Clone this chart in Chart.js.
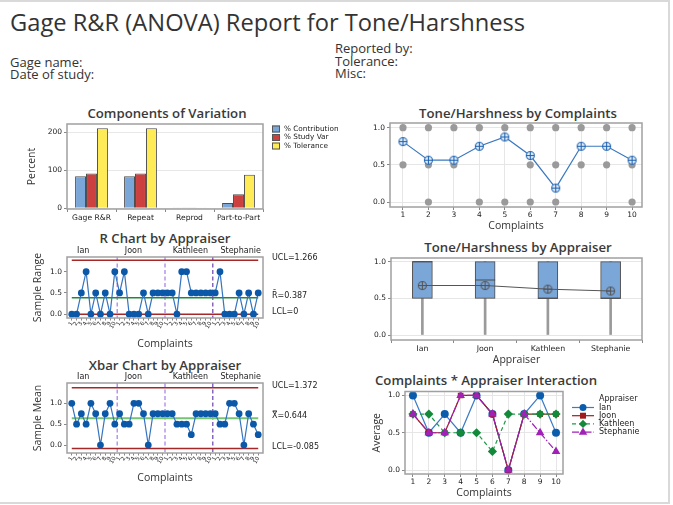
<!DOCTYPE html>
<html><head><meta charset="utf-8">
<script src="https://cdn.jsdelivr.net/npm/chart.js@4.4.1/dist/chart.umd.min.js"></script>
<style>
html,body{margin:0;padding:0;background:#fff;}
body{width:673px;height:505px;position:relative;overflow:hidden;font-family:"Open Sans",sans-serif;color:#333;}
#frame{position:absolute;left:-2px;top:0;width:672px;height:504px;border:2px solid #d9d9d9;box-sizing:border-box;}
.t{position:absolute;white-space:nowrap;}
.hdr{position:absolute;white-space:nowrap;font-size:13px;line-height:13px;color:#333;}
.pt{position:absolute;white-space:nowrap;font-size:13.2px;font-weight:600;line-height:14px;color:#3a3a3a;transform:translate(-50%,-50%);}
canvas{position:absolute;}
</style></head>
<body>
<div id="frame"></div>
<div class="t" style="left:10px;top:6px;font-size:23.7px;line-height:32px;color:#333;">Gage R&amp;R (ANOVA) Report for Tone/Harshness</div>
<div class="hdr" style="left:335px;top:41.5px;">Reported by:</div>
<div class="hdr" style="left:335px;top:54.5px;">Tolerance:</div>
<div class="hdr" style="left:335px;top:66.5px;">Misc:</div>
<div class="hdr" style="left:10px;top:55.5px;">Gage name:</div>
<div class="hdr" style="left:10px;top:67.5px;">Date of study:</div>

<div class="pt" style="left:167px;top:113px;">Components of Variation</div>
<div class="pt" style="left:165px;top:238px;">R Chart by Appraiser</div>
<div class="pt" style="left:165px;top:365px;">Xbar Chart by Appraiser</div>
<div class="pt" style="left:518px;top:113px;">Tone/Harshness by Complaints</div>
<div class="pt" style="left:518px;top:247px;">Tone/Harshness by Appraiser</div>
<div class="pt" style="left:486px;top:380px;">Complaints * Appraiser Interaction</div>

<canvas id="cA"></canvas>
<canvas id="cB"></canvas>
<canvas id="cC"></canvas>
<canvas id="cD"></canvas>
<canvas id="cE"></canvas>
<canvas id="cF"></canvas>

<script>
// ---------------- data ----------------
const complaints = [1, 2, 3, 4, 5, 6, 7, 8, 9, 10];
const appraisers = ['Ian', 'Joon', 'Kathleen', 'Stephanie'];

const components = ['Gage R&R', 'Repeat', 'Reprod', 'Part-to-Part'];
const pctContribution = [84, 84, 0.4, 14];
const pctStudyVar = [91, 91, 0.4, 37];
const pctTolerance = [210, 210, 0.4, 88];
const percentTicks = [0, 100, 200];

const ianRanges = [0, 0, 0.5, 1, 0, 0.5, 0, 0.5, 0, 1];
const joonRanges = [0.5, 1, 0, 0, 0, 0.5, 0, 0.5, 0.5, 0.5];
const kathleenRanges = [0.5, 0.5, 0, 1, 1, 0.5, 0.5, 0.5, 0.5, 0.5];
const stephanieRanges = [0.5, 1, 0, 0, 0, 0.5, 0, 0.5, 0, 0.5];
const rUCL = 1.266, rBar = 0.387, rLCL = 0;

const ianMeans = [1, 0.5, 0.75, 0.5, 1, 0.75, 0, 0.75, 1, 0.5];
const joonMeans = [0.75, 0.5, 0.5, 1, 1, 0.75, 0, 0.75, 0.75, 0.75];
const kathleenMeans = [0.75, 0.75, 0.5, 0.5, 0.5, 0.25, 0.75, 0.75, 0.75, 0.75];
const stephanieMeans = [0.75, 0.5, 0.5, 1, 1, 0.75, 0, 0.75, 0.5, 0.25];
const xUCL = 1.372, xBar = 0.644, xLCL = -0.085;

const complaintMeans = [0.8125, 0.5625, 0.5625, 0.75, 0.875, 0.625, 0.1875, 0.75, 0.75, 0.5625];
const complaintObserved = [[0.5, 1], [0, 0.5, 1], [0.5, 1], [0, 1], [0, 1], [0, 0.5, 1], [0, 0.5, 1], [0.5, 1], [0.5, 1], [0, 0.5, 1]];

const appraiserMeans = [0.675, 0.675, 0.625, 0.6];
const boxQ1 = [0.5, 0.5, 0.5, 0.5];
const boxQ3 = [1, 1, 1, 1];
const boxMedian = [1, 0.75, 0.5, 0.5];
const boxMin = [0, 0, 0, 0];
const boxMax = [1, 1, 1, 1];

const unitTicks = [0, 0.5, 1];

// ---------------- helpers ----------------
Chart.defaults.font.family = "'DejaVu Sans'";
Chart.defaults.font.size = 7.5;
Chart.defaults.color = '#222';
Chart.defaults.animation = false;
Chart.defaults.responsive = false;
Chart.defaults.devicePixelRatio = 1;
Chart.defaults.plugins.legend.display = false;
Chart.defaults.plugins.tooltip.enabled = false;

const TITLE_FONT = {family: "'Open Sans'", size: 10.5};
const TITLE_COLOR = '#333';

function geom(id, box, plot) {
  const cv = document.getElementById(id);
  cv.width = box.w; cv.height = box.h;
  cv.style.left = box.x + 'px'; cv.style.top = box.y + 'px';
  cv.style.width = box.w + 'px'; cv.style.height = box.h + 'px';
  return {cv, padding: {left: 0, top: plot.t - box.y, right: box.x + box.w - plot.r, bottom: 0},
          yW: plot.l - box.x, xH: box.y + box.h - plot.b};
}
const fixTicks = vals => s => { s.ticks = vals.map(v => ({value: v})); };

const framePlugin = {
  id: 'frame',
  afterDraw(chart) {
    const a = chart.chartArea, c = chart.ctx;
    c.save(); c.strokeStyle = '#a0a0a0'; c.lineWidth = 1.5;
    c.strokeRect(a.left, a.top, a.right - a.left, a.bottom - a.top);
    c.restore();
  }
};

function circlePlus(color, r, fill) {
  const s = Math.ceil(2 * r + 3);
  const c = document.createElement('canvas'); c.width = s; c.height = s;
  const x = c.getContext('2d'); const m = s / 2;
  x.lineWidth = 1.1; x.strokeStyle = color; x.fillStyle = fill;
  x.beginPath(); x.arc(m, m, r, 0, Math.PI * 2); x.fill(); x.stroke();
  x.beginPath(); x.moveTo(m - r, m); x.lineTo(m + r, m); x.moveTo(m, m - r); x.lineTo(m, m + r); x.stroke();
  return c;
}

function marker(ctx, style, x, y, r, color) {
  ctx.fillStyle = color;
  ctx.beginPath();
  if (style === 'circle') ctx.arc(x, y, r, 0, Math.PI * 2);
  else if (style === 'rect') ctx.rect(x - r * 0.85, y - r * 0.85, r * 1.7, r * 1.7);
  else if (style === 'rectRot') { ctx.moveTo(x, y - r); ctx.lineTo(x + r, y); ctx.lineTo(x, y + r); ctx.lineTo(x - r, y); ctx.closePath(); }
  else if (style === 'triangle') { ctx.moveTo(x, y - r); ctx.lineTo(x + r * 0.95, y + r * 0.6); ctx.lineTo(x - r * 0.95, y + r * 0.6); ctx.closePath(); }
  ctx.fill();
}

// ---------------- A: Components of Variation ----------------
const gA = geom('cA', {x: 0, y: 100, w: 360, h: 128}, {l: 67, t: 124, r: 263, b: 209});
const compLegend = {
  id: 'compLegend',
  afterDraw(chart) {
    const ctx = chart.ctx, a = chart.chartArea;
    ctx.save();
    ctx.font = "7.3px 'DejaVu Sans'"; ctx.textBaseline = 'middle';
    chart.data.datasets.forEach((ds, i) => {
      const y = a.top + 5 + i * 8.5, x0 = a.right + 9;
      ctx.fillStyle = ds.backgroundColor; ctx.fillRect(x0, y - 3.5, 8, 7);
      ctx.strokeStyle = '#555'; ctx.lineWidth = 1; ctx.strokeRect(x0 + 0.5, y - 3, 7, 6);
      ctx.fillStyle = '#222'; ctx.fillText(ds.label, x0 + 12, y);
    });
    ctx.restore();
  }
};
new Chart(gA.cv, {
  type: 'bar',
  data: {labels: components, datasets: [
    {label: '% Contribution', data: pctContribution, backgroundColor: '#7ba6d8', borderColor: '#4d4d4d', borderWidth: 1},
    {label: '% Study Var', data: pctStudyVar, backgroundColor: '#cc4040', borderColor: '#4d4d4d', borderWidth: 1},
    {label: '% Tolerance', data: pctTolerance, backgroundColor: '#ffeb55', borderColor: '#4d4d4d', borderWidth: 1}
  ]},
  options: {
    layout: {padding: gA.padding},
    datasets: {bar: {barPercentage: 1, categoryPercentage: 0.67}},
    scales: {
      x: {grid: {drawOnChartArea: false, tickLength: 3, tickColor: '#888'}, border: {display: false},
          ticks: {padding: 1, font: {size: 7.6}, maxRotation: 0, minRotation: 0, autoSkip: false},
          afterFit: s => { s.height = gA.xH; }},
      y: {min: -2, max: 221, afterBuildTicks: fixTicks(percentTicks), border: {display: false},
          grid: {color: '#e8e8e8', tickColor: '#888', tickLength: 3}, ticks: {padding: 2},
          title: {display: true, text: 'Percent', font: TITLE_FONT, color: TITLE_COLOR, padding: {top: 25.7}},
          afterFit: s => { s.width = gA.yW; }}
    }
  },
  plugins: [framePlugin, compLegend]
});

// ---------------- control chart builder ----------------
function controlChart(id, box, plot, seq, lims, yMin, yMax, yTitle, titlePadBottom, centerColor, centerWidth) {
  const g = geom(id, box, plot);
  const n = seq.length;
  const pts = seq.map((v, i) => ({x: i, y: v}));
  const hline = v => [{x: 0, y: v}, {x: n - 1, y: v}];
  const idx = seq.map((v, i) => i);
  const dividers = {
    id: 'dividers',
    beforeDatasetsDraw(chart) {
      const ctx = chart.ctx, a = chart.chartArea, xs = chart.scales.x;
      const cols = ['#a57be6', '#a57be6', '#6a40b0'];
      ctx.save(); ctx.setLineDash([4, 2.5]); ctx.lineWidth = 1.2;
      for (let k = 1; k < appraisers.length; k++) {
        const px = xs.getPixelForValue(k * complaints.length - 0.5);
        ctx.strokeStyle = cols[k - 1];
        ctx.beginPath(); ctx.moveTo(px, a.top); ctx.lineTo(px, a.bottom); ctx.stroke();
      }
      ctx.restore();
    },
    afterDraw(chart) {
      const ctx = chart.ctx, a = chart.chartArea, xs = chart.scales.x, ys = chart.scales.y;
      ctx.save(); ctx.font = "8px 'DejaVu Sans'"; ctx.fillStyle = '#222'; ctx.textBaseline = 'middle';
      appraisers.forEach((name, k) => {
        ctx.fillText(name, xs.getPixelForValue(k * complaints.length + 1.1), a.top - 6);
      });
      lims.forEach(it => ctx.fillText(it.text, a.right + 9, ys.getPixelForValue(it.value) - 2));
      ctx.restore();
    }
  };
  new Chart(g.cv, {
    type: 'line',
    data: {datasets: [
      {data: pts, borderColor: '#3474c0', borderWidth: 1.2, pointRadius: 3.4, pointBackgroundColor: '#0b58a8', pointBorderWidth: 0, tension: 0},
      {data: hline(lims[0].value), borderColor: '#a52828', borderWidth: 1.5, pointRadius: 0},
      {data: hline(lims[1].value), borderColor: centerColor, borderWidth: centerWidth, pointRadius: 0},
      {data: hline(lims[2].value), borderColor: '#a52828', borderWidth: 1.5, pointRadius: 0}
    ]},
    options: {
      layout: {padding: g.padding},
      scales: {
        x: {type: 'linear', min: -1, max: n, afterBuildTicks: fixTicks(idx), border: {display: false},
            grid: {drawOnChartArea: false, tickLength: 2.5, tickColor: '#888'},
            ticks: {autoSkip: false, maxRotation: 60, minRotation: 60, padding: 0, font: {size: 5.5},
                    callback: v => String(complaints[v % complaints.length])},
            title: {display: true, text: 'Complaints', font: TITLE_FONT, color: TITLE_COLOR, padding: {top: 0, bottom: titlePadBottom}},
            afterFit: s => { s.height = g.xH; }},
        y: {min: yMin, max: yMax, afterBuildTicks: fixTicks(unitTicks), border: {display: false},
            grid: {drawOnChartArea: false, tickLength: 3, tickColor: '#888'}, ticks: {padding: 2, callback: v => v.toFixed(1)},
            title: {display: true, text: yTitle, font: TITLE_FONT, color: TITLE_COLOR, padding: {top: 31.7}},
            afterFit: s => { s.width = g.yW; }}
      }
    },
    plugins: [framePlugin, dividers]
  });
}

controlChart('cB', {x: 0, y: 226, w: 360, h: 124}, {l: 67, t: 257, r: 263, b: 318},
  [...ianRanges, ...joonRanges, ...kathleenRanges, ...stephanieRanges],
  [{text: 'UCL=' + rUCL, value: rUCL}, {text: 'R\u0304=' + rBar, value: rBar}, {text: 'LCL=' + rLCL, value: rLCL}],
  -0.09, 1.345, 'Sample Range', 0, '#1f8a35', 1.5);

controlChart('cC', {x: 0, y: 352, w: 360, h: 138}, {l: 67, t: 383, r: 263, b: 453},
  [...ianMeans, ...joonMeans, ...kathleenMeans, ...stephanieMeans],
  [{text: 'UCL=' + xUCL, value: xUCL}, {text: 'X\u033F=' + xBar, value: xBar}, {text: 'LCL=' + xLCL, value: xLCL}],
  -0.19, 1.487, 'Sample Mean', 5.7, '#74c474', 2);

// ---------------- D: Tone/Harshness by Complaints ----------------
const gD = geom('cD', {x: 355, y: 100, w: 312, h: 133}, {l: 390, t: 123, r: 642, b: 207});
const obsPts = [];
complaintObserved.forEach((vals, i) => vals.forEach(v => obsPts.push({x: complaints[i], y: v})));
new Chart(gD.cv, {
  type: 'line',
  data: {datasets: [
    {data: complaints.map((c, i) => ({x: c, y: complaintMeans[i]})), borderColor: '#3a78c0', borderWidth: 1.2,
     pointStyle: circlePlus('#1f63b0', 4, '#e4eef9'), pointRadius: 4},
    {data: obsPts, showLine: false, pointRadius: 3.6, pointBackgroundColor: '#9a9a9a', pointBorderWidth: 0}
  ]},
  options: {
    layout: {padding: gD.padding},
    scales: {
      x: {type: 'linear', min: 0.49, max: 10.39, afterBuildTicks: fixTicks(complaints), border: {display: false},
          grid: {color: '#e6e6e6', tickLength: 3, tickColor: '#888'}, ticks: {padding: 1},
          title: {display: true, text: 'Complaints', font: TITLE_FONT, color: TITLE_COLOR, padding: {top: 0, bottom: 0.7}},
          afterFit: s => { s.height = gD.xH; }},
      y: {min: -0.067, max: 1.063, afterBuildTicks: fixTicks(unitTicks), border: {display: false},
          grid: {color: '#e6e6e6', tickLength: 3, tickColor: '#888'}, ticks: {padding: 2, callback: v => v.toFixed(1)},
          afterFit: s => { s.width = gD.yW; }}
    }
  },
  plugins: [framePlugin]
});

// ---------------- E: Tone/Harshness by Appraiser ----------------
const gE = geom('cE', {x: 355, y: 233, w: 312, h: 134}, {l: 391, t: 258, r: 642, b: 340});
const medianPlugin = {
  id: 'median',
  afterDatasetsDraw(chart) {
    const ctx = chart.ctx, ys = chart.scales.y;
    const meta = chart.getDatasetMeta(1);
    ctx.save(); ctx.strokeStyle = '#4a4a4a'; ctx.lineWidth = 1;
    meta.data.forEach((el, i) => {
      const y = ys.getPixelForValue(boxMedian[i]);
      ctx.beginPath(); ctx.moveTo(el.x - el.width / 2, y); ctx.lineTo(el.x + el.width / 2, y); ctx.stroke();
    });
    ctx.restore();
  }
};
new Chart(gE.cv, {
  data: {labels: appraisers, datasets: [
    {type: 'line', data: appraiserMeans, borderColor: '#555', borderWidth: 1, pointStyle: circlePlus('#555', 4, 'rgba(0,0,0,0)'), pointRadius: 4, order: 0},
    {type: 'bar', data: boxQ1.map((q, i) => [q, boxQ3[i]]), backgroundColor: '#7ba6d8', borderColor: '#4a4a4a', borderWidth: 1, borderSkipped: false, barThickness: 20, grouped: false, order: 1},
    {type: 'bar', data: boxMin.map((m, i) => [m, boxQ1[i]]), backgroundColor: '#9a9a9a', barThickness: 2, grouped: false, order: 2},
    {type: 'bar', data: boxQ3.map((q, i) => [q, boxMax[i]]), backgroundColor: '#9a9a9a', barThickness: 2, grouped: false, order: 2}
  ]},
  options: {
    layout: {padding: gE.padding},
    scales: {
      x: {grid: {drawOnChartArea: false, tickLength: 3, tickColor: '#888'}, border: {display: false}, ticks: {padding: 1, font: {size: 7.8}},
          title: {display: true, text: 'Appraiser', font: TITLE_FONT, color: TITLE_COLOR, padding: {top: 0, bottom: 0.7}},
          afterFit: s => { s.height = gE.xH; }},
      y: {min: -0.068, max: 1.05, afterBuildTicks: fixTicks(unitTicks), border: {display: false},
          grid: {color: '#e6e6e6', tickLength: 3, tickColor: '#888'}, ticks: {padding: 2, callback: v => v.toFixed(1)},
          afterFit: s => { s.width = gE.yW; }}
    }
  },
  plugins: [framePlugin, medianPlugin]
});

// ---------------- F: Interaction ----------------
const gF = geom('cF', {x: 355, y: 385, w: 318, h: 117}, {l: 405, t: 391, r: 563, b: 474});
const series = [
  {name: 'Ian', data: ianMeans, color: '#0b5cad', line: '#3b7cc6', style: 'circle', dash: [], r: 4, order: 3},
  {name: 'Joon', data: joonMeans, color: '#a01c1c', line: '#a01c1c', style: 'rect', dash: [], r: 4, order: 2},
  {name: 'Kathleen', data: kathleenMeans, color: '#138a3a', line: '#1f9a48', style: 'rectRot', dash: [4, 3], r: 4.6, order: 1},
  {name: 'Stephanie', data: stephanieMeans, color: '#a020b8', line: '#a020b8', style: 'triangle', dash: [7, 2, 1.5, 2], r: 5, order: 0}
];
const interLegend = {
  id: 'interLegend',
  afterDraw(chart) {
    const ctx = chart.ctx, a = chart.chartArea;
    ctx.save();
    ctx.font = "8px 'DejaVu Sans'"; ctx.textBaseline = 'middle'; ctx.fillStyle = '#222';
    const x0 = a.right + 9;
    ctx.fillText('Appraiser', x0 + 27, a.top + 7);
    series.forEach((s, i) => {
      const y = a.top + 16 + i * 8.2;
      ctx.strokeStyle = s.line; ctx.lineWidth = 1.2; ctx.setLineDash(s.dash);
      ctx.beginPath(); ctx.moveTo(x0, y); ctx.lineTo(x0 + 22, y); ctx.stroke(); ctx.setLineDash([]);
      marker(ctx, s.style, x0 + 11, y, s.r - 0.5, s.color);
      ctx.fillStyle = '#222'; ctx.fillText(s.name, x0 + 27, y);
    });
    ctx.restore();
  }
};
new Chart(gF.cv, {
  type: 'line',
  data: {datasets: series.map(s => ({
    label: s.name, data: complaints.map((c, i) => ({x: c, y: s.data[i]})), borderColor: s.line, borderWidth: 1.2,
    borderDash: s.dash, pointStyle: s.style, pointRadius: s.r, pointBackgroundColor: s.color, pointBorderColor: s.color,
    pointBorderWidth: 0, order: s.order
  }))},
  options: {
    layout: {padding: gF.padding},
    scales: {
      x: {type: 'linear', min: 0.5, max: 10.44, afterBuildTicks: fixTicks(complaints), border: {display: false},
          grid: {color: '#e6e6e6', tickLength: 3, tickColor: '#888'}, ticks: {padding: 1},
          title: {display: true, text: 'Complaints', font: TITLE_FONT, color: TITLE_COLOR, padding: {top: 0, bottom: 2.7}},
          afterFit: s => { s.height = gF.xH; }},
      y: {min: -0.053, max: 1.053, afterBuildTicks: fixTicks(unitTicks), border: {display: false},
          grid: {color: '#e6e6e6', tickLength: 3, tickColor: '#888'}, ticks: {padding: 2, callback: v => v.toFixed(1)},
          title: {display: true, text: 'Average', font: TITLE_FONT, color: TITLE_COLOR, padding: {top: 15.7}},
          afterFit: s => { s.width = gF.yW; }}
    }
  },
  plugins: [framePlugin, interLegend]
});
</script>
</body></html>
